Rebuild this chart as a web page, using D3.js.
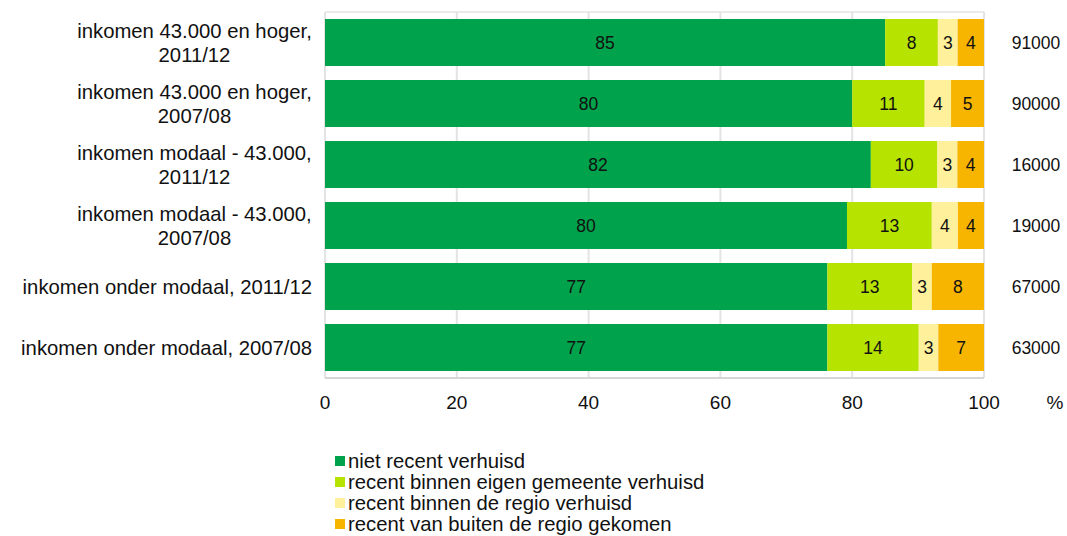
<!DOCTYPE html>
<html>
<head>
<meta charset="utf-8">
<script src="https://cdn.jsdelivr.net/npm/d3@7"></script>
<style>
  html, body { margin: 0; padding: 0; background: #fff; }
  svg { display: block; font-family: "Liberation Sans", Arial, Helvetica, sans-serif; }
</style>
</head>
<body>
<svg id="chart" width="1067" height="536"></svg>
<script>
// Groups (top to bottom), each label split over lines
const categories = [
  ["inkomen 43.000 en hoger,", "2011/12"],
  ["inkomen 43.000 en hoger,", "2007/08"],
  ["inkomen modaal - 43.000,", "2011/12"],
  ["inkomen modaal - 43.000,", "2007/08"],
  ["inkomen onder modaal, 2011/12"],
  ["inkomen onder modaal, 2007/08"]
];

const seriesNames = [
  "niet recent verhuisd",
  "recent binnen eigen gemeente verhuisd",
  "recent binnen de regio verhuisd",
  "recent van buiten de regio gekomen"
];

// Percentages per series, in category order
const nietRecent      = [85, 80, 82, 80, 77, 77];
const binnenGemeente  = [8, 11, 10, 13, 13, 14];
const binnenRegio     = [3, 4, 3, 4, 3, 3];
const buitenRegio     = [4, 5, 4, 4, 8, 7];

// Number of households per group
const totals = [91000, 90000, 16000, 19000, 67000, 63000];

const xTicks = [0, 20, 40, 60, 80, 100];

const colors = ["#00a24b", "#b6e300", "#fff09b", "#f7b500"];

const rows = categories.map((c, i) => ({
  idx: i,
  s0: nietRecent[i], s1: binnenGemeente[i], s2: binnenRegio[i], s3: buitenRegio[i]
}));

const svg = d3.select("#chart");
const margin = { left: 325, right: 83, top: 12, bottom: 158 };
const W = 1067, H = 536;

const x = d3.scaleLinear().domain([0, 1]).range([margin.left, W - margin.right]);
const y = d3.scaleBand().domain(d3.range(categories.length))
  .range([margin.top, H - margin.bottom]).paddingInner(0.23).paddingOuter(0.115);

// 100% stacked layout
const stack = d3.stack().keys(["s0", "s1", "s2", "s3"]).offset(d3.stackOffsetExpand);
const layers = stack(rows);

// Vertical gridlines (the 0 and 100 lines double as the frame sides)
svg.append("g").selectAll("line").data(xTicks)
  .join("line")
  .attr("x1", d => x(d / 100)).attr("x2", d => x(d / 100))
  .attr("y1", margin.top).attr("y2", H - margin.bottom)
  .attr("stroke", "#e3e3e3").attr("stroke-width", 2);

// Frame top and bottom
svg.append("line")
  .attr("x1", x(0)).attr("x2", x(1))
  .attr("y1", margin.top).attr("y2", margin.top)
  .attr("stroke", "#e3e3e3").attr("stroke-width", 1.5);
svg.append("line")
  .attr("x1", x(0)).attr("x2", x(1))
  .attr("y1", H - margin.bottom).attr("y2", H - margin.bottom)
  .attr("stroke", "#d6d6d6").attr("stroke-width", 2);

// Bars and their value labels
const g = svg.append("g");
layers.forEach((layer, li) => {
  g.append("g").selectAll("rect").data(layer)
    .join("rect")
    .attr("x", d => x(d[0]))
    .attr("width", d => x(d[1]) - x(d[0]))
    .attr("y", (d, i) => y(i))
    .attr("height", y.bandwidth())
    .attr("fill", colors[li]);

  g.append("g").selectAll("text").data(layer)
    .join("text")
    .attr("x", d => (x(d[0]) + x(d[1])) / 2)
    .attr("y", (d, i) => y(i) + y.bandwidth() / 2)
    .attr("dy", "0.35em")
    .attr("text-anchor", "middle")
    .attr("font-size", 17.5)
    .attr("fill", "#111")
    .text((d, i) => rows[i]["s" + li]);
});

// Category labels
const catG = svg.append("g");
categories.forEach((lines, i) => {
  const cy = y(i) + y.bandwidth() / 2;
  const t = catG.append("text")
    .attr("font-size", 20.3)
    .attr("fill", "#111");
  if (lines.length === 1) {
    t.attr("text-anchor", "end")
      .attr("x", 312).attr("y", cy).attr("dy", "0.35em").text(lines[0]);
  } else {
    t.attr("text-anchor", "middle");
    lines.forEach((ln, k) => {
      t.append("tspan")
        .attr("x", 194.5)
        .attr("y", cy + (k - (lines.length - 1) / 2) * 24)
        .attr("dy", "0.35em")
        .text(ln);
    });
  }
});

// X axis tick labels
svg.append("g").selectAll("text").data(xTicks)
  .join("text")
  .attr("x", d => x(d / 100))
  .attr("y", 402.5)
  .attr("dy", "0.35em")
  .attr("text-anchor", "middle")
  .attr("font-size", 19)
  .attr("fill", "#111")
  .text(d => d);

svg.append("text")
  .attr("x", 1055).attr("y", 402.5)
  .attr("dy", "0.35em")
  .attr("text-anchor", "middle")
  .attr("font-size", 19)
  .attr("fill", "#111")
  .text("%");

// Totals on the right
svg.append("g").selectAll("text").data(totals)
  .join("text")
  .attr("x", 1036)
  .attr("y", (d, i) => y(i) + y.bandwidth() / 2)
  .attr("dy", "0.35em")
  .attr("text-anchor", "middle")
  .attr("font-size", 17.5)
  .attr("fill", "#111")
  .text(d => d);

// Legend
const leg = svg.append("g").selectAll("g").data(seriesNames)
  .join("g")
  .attr("transform", (d, i) => `translate(335, ${461 + i * 21})`);
leg.append("rect")
  .attr("x", 0).attr("y", -5).attr("width", 10).attr("height", 10)
  .attr("fill", (d, i) => colors[i]);
leg.append("text")
  .attr("x", 13).attr("y", 0).attr("dy", "0.35em")
  .attr("font-size", 20.3)
  .attr("fill", "#111")
  .text(d => d);
</script>
</body>
</html>
